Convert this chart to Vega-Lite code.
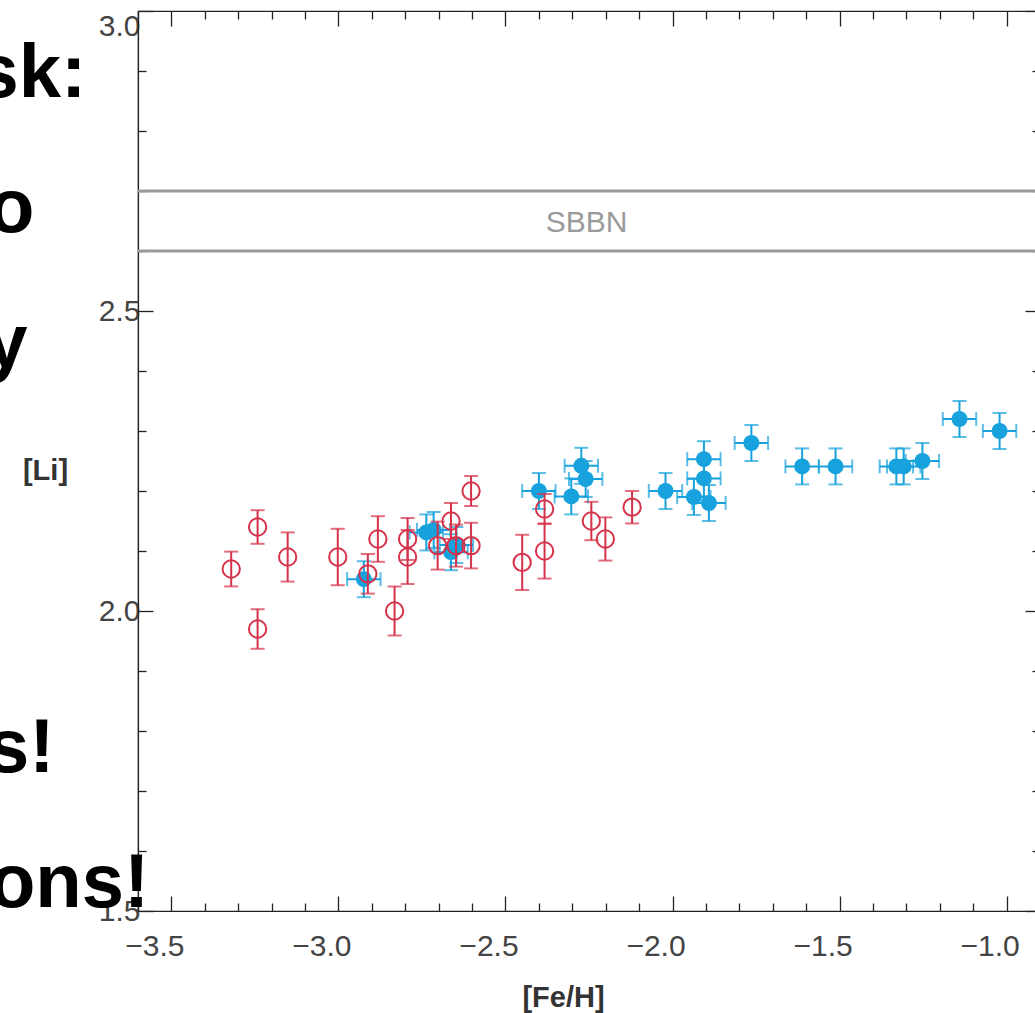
{
  "$schema": "https://vega.github.io/schema/vega-lite/v6.json",
  "width": 902,
  "height": 900,
  "autosize": "none",
  "padding": {"left": 138, "top": 11, "right": 0, "bottom": 102},
  "background": "white",
  "config": {
    "view": {"stroke": "#222", "strokeWidth": 1.2},
    "axis": {
      "grid": false,
      "labelFont": "Liberation Sans",
      "labelFontSize": 30,
      "labelColor": "#444",
      "domainColor": "#222",
      "domainWidth": 1.2,
      "tickColor": "#222",
      "tickWidth": 1.3,
      "titleFont": "Liberation Sans",
      "titleFontWeight": "bold",
      "titleColor": "#333"
    }
  },
  "datasets": {
    "red": [
      {"feh": -3.321, "li": 2.070, "err": 0.029},
      {"feh": -3.242, "li": 2.140, "err": 0.028},
      {"feh": -3.242, "li": 1.970, "err": 0.033},
      {"feh": -3.152, "li": 2.090, "err": 0.041},
      {"feh": -3.002, "li": 2.090, "err": 0.047},
      {"feh": -2.912, "li": 2.062, "err": 0.033},
      {"feh": -2.882, "li": 2.120, "err": 0.038},
      {"feh": -2.832, "li": 2.000, "err": 0.041},
      {"feh": -2.793, "li": 2.120, "err": 0.035},
      {"feh": -2.793, "li": 2.090, "err": 0.045},
      {"feh": -2.703, "li": 2.109, "err": 0.040},
      {"feh": -2.663, "li": 2.150, "err": 0.030},
      {"feh": -2.648, "li": 2.109, "err": 0.035},
      {"feh": -2.603, "li": 2.200, "err": 0.025},
      {"feh": -2.603, "li": 2.109, "err": 0.038},
      {"feh": -2.450, "li": 2.081, "err": 0.046},
      {"feh": -2.383, "li": 2.170, "err": 0.025},
      {"feh": -2.383, "li": 2.100, "err": 0.046},
      {"feh": -2.243, "li": 2.150, "err": 0.032},
      {"feh": -2.201, "li": 2.120, "err": 0.036},
      {"feh": -2.121, "li": 2.173, "err": 0.027}
    ],
    "blue": [
      {"feh": -2.924, "li": 2.053, "xerr": 0.05, "yerr": 0.03},
      {"feh": -2.737, "li": 2.131, "xerr": 0.05, "yerr": 0.03},
      {"feh": -2.715, "li": 2.135, "xerr": 0.05, "yerr": 0.03},
      {"feh": -2.663, "li": 2.098, "xerr": 0.05, "yerr": 0.03},
      {"feh": -2.647, "li": 2.110, "xerr": 0.05, "yerr": 0.03},
      {"feh": -2.400, "li": 2.200, "xerr": 0.05, "yerr": 0.03},
      {"feh": -2.303, "li": 2.191, "xerr": 0.05, "yerr": 0.03},
      {"feh": -2.273, "li": 2.242, "xerr": 0.05, "yerr": 0.03},
      {"feh": -2.260, "li": 2.220, "xerr": 0.05, "yerr": 0.03},
      {"feh": -2.021, "li": 2.200, "xerr": 0.05, "yerr": 0.03},
      {"feh": -1.936, "li": 2.190, "xerr": 0.05, "yerr": 0.03},
      {"feh": -1.906, "li": 2.253, "xerr": 0.05, "yerr": 0.03},
      {"feh": -1.906, "li": 2.221, "xerr": 0.05, "yerr": 0.03},
      {"feh": -1.891, "li": 2.180, "xerr": 0.05, "yerr": 0.03},
      {"feh": -1.764, "li": 2.280, "xerr": 0.05, "yerr": 0.03},
      {"feh": -1.612, "li": 2.241, "xerr": 0.05, "yerr": 0.03},
      {"feh": -1.512, "li": 2.241, "xerr": 0.05, "yerr": 0.03},
      {"feh": -1.330, "li": 2.241, "xerr": 0.05, "yerr": 0.03},
      {"feh": -1.308, "li": 2.241, "xerr": 0.05, "yerr": 0.03},
      {"feh": -1.252, "li": 2.250, "xerr": 0.05, "yerr": 0.03},
      {"feh": -1.141, "li": 2.320, "xerr": 0.05, "yerr": 0.03},
      {"feh": -1.021, "li": 2.300, "xerr": 0.05, "yerr": 0.03}
    ],
    "sbbn": [{"li": 2.6}, {"li": 2.7}],
    "sbbnlabel": [{"feh": -2.2575, "li": 2.647, "label": "SBBN"}],
    "frag": [
      {"feh": -3.7545, "li": 2.8567, "t": "sk:"},
      {"feh": -3.91, "li": 2.6317, "t": "o"},
      {"feh": -3.931, "li": 2.4067, "t": "y"},
      {"feh": -3.85, "li": 1.7317, "t": "s!"},
      {"feh": -3.566, "li": 1.5067, "t": "ons!"}
    ]
  },
  "layer": [
    {
      "data": {"name": "sbbn"},
      "mark": {"type": "rule", "color": "#9a9a9a", "strokeWidth": 3},
      "encoding": {
        "y": {"field": "li", "type": "quantitative", "scale": {"domain": [1.5, 3.0], "nice": false, "zero": false}, "axis": null}
      }
    },
    {
      "data": {"name": "sbbnlabel"},
      "mark": {"type": "text", "font": "Liberation Sans", "fontSize": 30, "color": "#9a9a9a", "align": "center", "baseline": "middle"},
      "encoding": {
        "x": {"field": "feh", "type": "quantitative", "scale": {"domain": [-3.6, -0.9], "nice": false, "zero": false}, "axis": null},
        "y": {"field": "li", "type": "quantitative", "scale": {"domain": [1.5, 3.0], "nice": false, "zero": false}, "axis": null},
        "text": {"field": "label"}
      }
    },
    {
      "data": {"name": "blue"},
      "mark": {"type": "errorbar", "ticks": {"size": 14}, "color": "#17a2dd", "thickness": 2},
      "encoding": {
        "x": {"field": "feh", "type": "quantitative", "scale": {"domain": [-3.6, -0.9], "nice": false, "zero": false}, "axis": null},
        "xError": {"field": "xerr"},
        "y": {"field": "li", "type": "quantitative", "scale": {"domain": [1.5, 3.0], "nice": false, "zero": false}, "axis": null}
      }
    },
    {
      "data": {"name": "blue"},
      "mark": {"type": "errorbar", "ticks": {"size": 14}, "color": "#17a2dd", "thickness": 2},
      "encoding": {
        "x": {"field": "feh", "type": "quantitative", "scale": {"domain": [-3.6, -0.9], "nice": false, "zero": false}, "axis": null},
        "y": {"field": "li", "type": "quantitative", "scale": {"domain": [1.5, 3.0], "nice": false, "zero": false}, "axis": null},
        "yError": {"field": "yerr"}
      }
    },
    {
      "data": {"name": "blue"},
      "mark": {"type": "point", "shape": "circle", "filled": true, "size": 256, "color": "#17a2dd", "opacity": 1},
      "encoding": {
        "x": {"field": "feh", "type": "quantitative", "scale": {"domain": [-3.6, -0.9], "nice": false, "zero": false},
          "axis": {"orient": "top", "values": [-3.6,-3.5,-3.4,-3.3,-3.2,-3.1,-3.0,-2.9,-2.8,-2.7,-2.6,-2.5,-2.4,-2.3,-2.2,-2.1,-2.0,-1.9,-1.8,-1.7,-1.6,-1.5,-1.4,-1.3,-1.2,-1.1,-1.0,-0.9],
            "labels": false, "title": null,
            "tickSize": {"condition": {"test": "abs(datum.value*2 - round(datum.value*2)) < 0.01", "value": -15}, "value": -8}}},
        "y": {"field": "li", "type": "quantitative", "scale": {"domain": [1.5, 3.0], "nice": false, "zero": false},
          "axis": {"orient": "right", "values": [1.5,1.6,1.7,1.8,1.9,2.0,2.1,2.2,2.3,2.4,2.5,2.6,2.7,2.8,2.9,3.0],
            "labels": false, "title": null,
            "tickSize": {"condition": {"test": "abs(datum.value*2 - round(datum.value*2)) < 0.01", "value": -15}, "value": -8}}}
      }
    },
    {
      "data": {"name": "red"},
      "mark": {"type": "errorbar", "ticks": {"size": 14}, "color": "#d5324a", "thickness": 2},
      "encoding": {
        "x": {"field": "feh", "type": "quantitative", "scale": {"domain": [-3.6, -0.9], "nice": false, "zero": false}, "axis": null},
        "y": {"field": "li", "type": "quantitative", "scale": {"domain": [1.5, 3.0], "nice": false, "zero": false}, "axis": null},
        "yError": {"field": "err"}
      }
    },
    {
      "data": {"name": "red"},
      "mark": {"type": "point", "shape": "circle", "filled": false, "size": 300, "color": "#d5324a", "strokeWidth": 2, "opacity": 1},
      "encoding": {
        "x": {"field": "feh", "type": "quantitative", "scale": {"domain": [-3.6, -0.9], "nice": false, "zero": false},
          "axis": {"orient": "bottom", "values": [-3.6,-3.5,-3.4,-3.3,-3.2,-3.1,-3.0,-2.9,-2.8,-2.7,-2.6,-2.5,-2.4,-2.3,-2.2,-2.1,-2.0,-1.9,-1.8,-1.7,-1.6,-1.5,-1.4,-1.3,-1.2,-1.1,-1.0,-0.9],
            "labelExpr": "abs(datum.value*2 - round(datum.value*2)) < 0.01 ? format(datum.value, '.1f') : ''",
            "labelFlush": false, "labelOffset": -17, "labelPadding": 35, "labelFontSize": 30,
            "tickSize": {"condition": {"test": "abs(datum.value*2 - round(datum.value*2)) < 0.01", "value": -15}, "value": -8},
            "title": "[Fe/H]", "titleFontSize": 29, "titleX": 425, "titleY": 86, "titleAlign": "center", "titleBaseline": "middle", "titleAnchor": null}},
        "y": {"field": "li", "type": "quantitative", "scale": {"domain": [1.5, 3.0], "nice": false, "zero": false},
          "axis": {"orient": "left", "values": [1.5,1.6,1.7,1.8,1.9,2.0,2.1,2.2,2.3,2.4,2.5,2.6,2.7,2.8,2.9,3.0],
            "labelExpr": "abs(datum.value*2 - round(datum.value*2)) < 0.01 ? format(datum.value, '.1f') : ''",
            "labelFlush": false, "labelPadding": 13, "labelFontSize": 30,
            "labelBaseline": {"condition": {"test": "datum.value > 2.95", "value": "top"}, "value": "middle"},
            "tickSize": {"condition": {"test": "abs(datum.value*2 - round(datum.value*2)) < 0.01", "value": -15}, "value": -8},
            "title": "[Li]", "titleAngle": 0, "titleFontSize": 29, "titleX": -93, "titleY": 459, "titleAlign": "center", "titleBaseline": "middle"}}
      }
    },
    {
      "data": {"name": "frag"},
      "mark": {"type": "text", "font": "Liberation Sans", "fontWeight": "bold", "fontSize": 76, "color": "#000", "align": "right", "baseline": "alphabetic"},
      "encoding": {
        "x": {"field": "feh", "type": "quantitative", "scale": {"domain": [-3.6, -0.9], "nice": false, "zero": false}, "axis": null},
        "y": {"field": "li", "type": "quantitative", "scale": {"domain": [1.5, 3.0], "nice": false, "zero": false}, "axis": null},
        "text": {"field": "t"}
      }
    }
  ],
  "resolve": {"axis": {"x": "independent", "y": "independent"}}
}
